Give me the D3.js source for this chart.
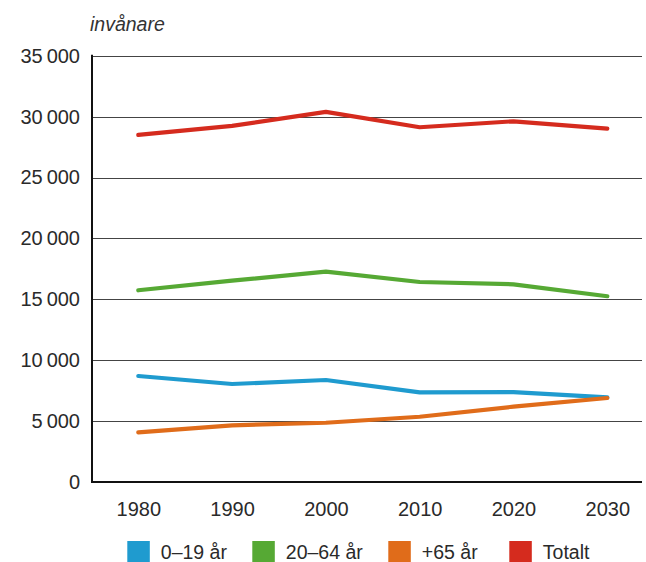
<!DOCTYPE html>
<html><head><meta charset="utf-8">
<script src="https://cdn.jsdelivr.net/npm/d3@7"></script>
<style>body{margin:0;background:#fff}svg{display:block}</style>
</head><body>
<script>
const years = [1980, 1990, 2000, 2010, 2020, 2030];
const seriesNames = ["0–19 år", "20–64 år", "+65 år", "Totalt"];
const age0_19 = [8700, 8040, 8370, 7360, 7380, 6950];
const age20_64 = [15740, 16530, 17270, 16420, 16230, 15250];
const age65 = [4075, 4650, 4860, 5350, 6180, 6890];
const total = [28500, 29240, 30390, 29130, 29620, 29020];
const colors = ["#1f9bcf", "#56a934", "#e06c1a", "#d52b1e"];
const yTicks = [0, 5000, 10000, 15000, 20000, 25000, 30000, 35000];
const yTitle = "invånare";

(function () {
const W = 646, H = 562;
const font = "'Liberation Sans', Arial, sans-serif";
const txt = "#2a2a2a";
const svg = d3.select("body").append("svg").attr("width", W).attr("height", H);

const pLeft = 92, pRight = 642, pTop = 55.8, pBottom = 481.9;
const x = d3.scalePoint().domain(years).range([138.3, 607.3]);
const y = d3.scaleLinear().domain([0, 35000]).range([pBottom, pTop]);

// gridlines
svg.append("g").selectAll("line").data(yTicks.filter(d => d > 0)).join("line")
  .attr("x1", pLeft).attr("x2", pRight)
  .attr("y1", d => Math.round(y(d)) + 0.5).attr("y2", d => Math.round(y(d)) + 0.5)
  .attr("stroke", "#444").attr("stroke-width", 1.2);

// y axis labels
const yAxis = d3.axisLeft(y).tickValues(yTicks).tickSize(0).tickPadding(12)
  .tickFormat(d => d === 0 ? "0" : d3.format(",")(d).replace(",", "\u2009"));
const ga = svg.append("g").attr("transform", `translate(${pLeft},0)`).call(yAxis);
ga.select(".domain").remove();
ga.selectAll("text").attr("font-family", font).attr("font-size", 20).attr("fill", txt);

// x axis labels
const xAxis = d3.axisBottom(x).tickSize(0).tickPadding(20);
const gx = svg.append("g").attr("transform", `translate(0,${pBottom})`).call(xAxis);
gx.select(".domain").remove();
gx.selectAll("text").attr("font-family", font).attr("font-size", 20).attr("fill", txt);

// axis lines
svg.append("line").attr("x1", pLeft).attr("x2", pLeft).attr("y1", pTop - 1).attr("y2", pBottom + 1)
  .attr("stroke", "#111").attr("stroke-width", 2);
svg.append("line").attr("x1", pLeft - 1).attr("x2", pRight).attr("y1", pBottom).attr("y2", pBottom)
  .attr("stroke", "#111").attr("stroke-width", 2);

// title
svg.append("text").attr("x", 90).attr("y", 31).text(yTitle)
  .attr("font-family", font).attr("font-style", "italic").attr("font-size", 19.5).attr("fill", "#333");

// lines
const data = [age0_19, age20_64, age65, total];
const line = d3.line().x((d, i) => x(years[i])).y(d => y(d));
svg.append("g").selectAll("path").data(data).join("path")
  .attr("d", line).attr("fill", "none")
  .attr("stroke", (d, i) => colors[i]).attr("stroke-width", 4.2)
  .attr("stroke-linecap", "round").attr("stroke-linejoin", "round");

// legend
const legX = [127.3, 252.3, 388.3, 509.3];
const lg = svg.append("g").selectAll("g").data(seriesNames).join("g")
  .attr("transform", (d, i) => `translate(${legX[i]},541)`);
lg.append("rect").attr("width", 22.5).attr("height", 21).attr("fill", (d, i) => colors[i]);
lg.append("text").attr("x", 33.5).attr("y", 17.5).text(d => d)
  .attr("font-family", font).attr("font-size", 19.5).attr("fill", txt);
})();
</script>
</body></html>
